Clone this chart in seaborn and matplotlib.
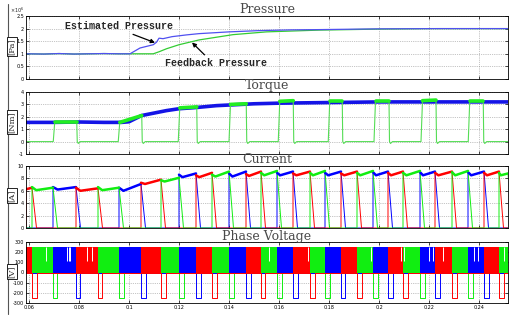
import numpy as np
import pandas as pd
import matplotlib
matplotlib.use("Agg")
import matplotlib.pyplot as plt
import seaborn as sns
from matplotlib.lines import Line2D

# ---------------- data ----------------
x_ticks = [0.06, 0.08, 0.10, 0.12, 0.14, 0.16, 0.18, 0.20, 0.22, 0.24]
x_tick_labels = ["0.06", "0.08", "0.1", "0.12", "0.14", "0.16", "0.18", "0.2", "0.22", "0.24"]
t_first, t_last = 0.0588, 0.2516

# Pressure (x10^6 Pa)
p_est_t = [0.0588, 0.066, 0.072, 0.078, 0.084, 0.090, 0.096, 0.1004, 0.1044, 0.1097, 0.1110,
           0.1120, 0.1136, 0.1172, 0.1230, 0.1280, 0.1400, 0.1520, 0.1650, 0.1760, 0.2000, 0.2250, 0.2516]
p_est_v = [1.00, 0.99, 1.01, 0.99, 1.00, 1.01, 1.00, 1.00, 1.23, 1.36, 1.46,
           1.62, 1.60, 1.68, 1.75, 1.80, 1.87, 1.92, 1.95, 1.96, 1.99, 2.00, 2.00]
p_fb_t = [0.0588, 0.066, 0.072, 0.078, 0.084, 0.090, 0.096, 0.1040, 0.1097, 0.1120, 0.1150,
          0.1200, 0.1280, 0.1416, 0.1550, 0.1760, 0.2000, 0.2200, 0.2516]
p_fb_v = [1.00, 0.99, 1.01, 0.99, 1.00, 1.01, 1.00, 1.00, 1.00, 1.08, 1.20,
          1.36, 1.55, 1.76, 1.87, 1.94, 1.98, 2.00, 2.00]
pressure_ticks = [0, 0.5, 1, 1.5, 2, 2.5]
pressure_tick_labels = ["0", "0.5", "1", "1.5", "2", "2.5"]

# Torque (Nm)
tq_est_t = [0.0588, 0.070, 0.080, 0.090, 0.097, 0.1000, 0.1050, 0.1100, 0.1150, 0.1200,
            0.1270, 0.1350, 0.1400, 0.1500, 0.1600, 0.1800, 0.2000, 0.2200, 0.2516]
tq_est_v = [1.55, 1.55, 1.58, 1.55, 1.55, 1.60, 2.10, 2.30, 2.50, 2.65,
            2.75, 2.90, 2.95, 3.05, 3.10, 3.15, 3.20, 3.20, 3.20]
tq_pulse_on = [0.0697, 0.0957, 0.1197, 0.1400, 0.1597, 0.1797, 0.1980, 0.2168, 0.2357]
tq_pulse_off = [0.0791, 0.1051, 0.1271, 0.1469, 0.1657, 0.1853, 0.2040, 0.2228, 0.2417]
tq_pulse_v_on = [1.60, 1.55, 2.72, 3.00, 3.25, 3.30, 3.30, 3.30, 3.30]
tq_pulse_v_off = [1.60, 2.10, 2.80, 3.05, 3.30, 3.30, 3.30, 3.35, 3.30]
tq_undershoot = -0.15
torque_ticks = [-1, 0, 1, 2, 3, 4]

# Commutation instants (segment boundaries) and phase order
comm_t = [0.0588, 0.0612, 0.0696, 0.0788, 0.0876, 0.0960, 0.1048, 0.1128, 0.1200, 0.1268,
          0.1332, 0.1400, 0.1468, 0.1528, 0.1592, 0.1656, 0.1724, 0.1784, 0.1848, 0.1912,
          0.1976, 0.2036, 0.2096, 0.2164, 0.2224, 0.2292, 0.2356, 0.2420, 0.2480, 0.2516]
phase_cycle = ["R", "G", "B"]

# Current (A) per conduction segment
cur_start = [6.3, 6.6, 6.6, 6.5, 6.6, 6.5, 7.3, 7.7, 8.6, 8.5, 8.6, 8.8, 8.7, 8.9, 8.9,
             8.8, 8.9, 8.9, 8.8, 8.9, 9.0, 8.9, 8.9, 9.0, 8.9, 9.0, 9.0, 8.9, 8.9]
cur_min = [6.3, 6.1, 6.2, 6.0, 6.1, 6.0, 7.1, 7.5, 8.2, 8.2, 8.3, 8.3, 8.4, 8.5, 8.5,
           8.5, 8.5, 8.5, 8.5, 8.5, 8.5, 8.5, 8.5, 8.5, 8.5, 8.5, 8.5, 8.5, 8.5]
cur_end = [6.5, 6.5, 6.6, 6.4, 6.5, 7.1, 7.8, 8.1, 8.8, 8.9, 9.1, 9.1, 9.1, 9.2, 9.1,
           9.1, 9.2, 9.1, 9.1, 9.2, 9.1, 9.1, 9.2, 9.1, 9.1, 9.2, 9.1, 9.1, 8.8]
cur_fall = 0.0018
current_ticks = [0, 2, 4, 6, 8, 10]

# Phase voltage (V)
v_on = 250
v_neg = -250
pwm_gap_t = [0.0668, 0.0752, 0.0758, 0.0764, 0.0832, 0.0852, 0.1560, 0.1716, 0.1968,
             0.2088, 0.2100, 0.2200, 0.2216, 0.2256, 0.2380, 0.2396, 0.2500]
pwm_gap_low = 110
voltage_ticks = [-300, -200, -100, 0, 100, 200, 300]

# ---------------- style ----------------
sns.set_style("white")
plt.rcParams["font.family"] = ["DejaVu Sans"]
COL = {"R": "#ff0000", "G": "#11ee11", "B": "#0000ff"}

W_PX, H_PX = 516, 322
fig = plt.figure(figsize=(W_PX / 100, H_PX / 100), dpi=100)
L, Wd = 26 / W_PX, (508 - 26) / W_PX


def pos(top, bottom):
    return [L, 1 - bottom / H_PX, Wd, (bottom - top) / H_PX]


ax_p = fig.add_axes(pos(16, 79))
ax_t = fig.add_axes(pos(92, 154), sharex=ax_p)
ax_c = fig.add_axes(pos(166, 228), sharex=ax_p)
ax_v = fig.add_axes(pos(242, 303), sharex=ax_p)
axes = [ax_p, ax_t, ax_c, ax_v]


def line(ax, t, v, color, lw, units=None):
    df = pd.DataFrame({"t": t, "v": v})
    kw = {}
    if units is not None:
        df["u"] = units
        kw["units"] = "u"
    sns.lineplot(data=df, x="t", y="v", ax=ax, color=color, linewidth=lw,
                 sort=False, estimator=None, **kw)


# ---- Pressure ----
line(ax_p, p_fb_t, p_fb_v, "#33cc33", 0.9)
line(ax_p, p_est_t, p_est_v, "#5050f0", 0.9)
ax_p.set_ylim(0, 2.5)
ax_p.set_yticks(pressure_ticks, labels=pressure_tick_labels)
ax_p.text(-0.004, 1.02, r"$\times10^{6}$", transform=ax_p.transAxes, fontsize=3.5,
          ha="right", va="bottom")
mono = dict(family="Liberation Mono", weight="bold", fontsize=7.2)
ax_p.annotate("Estimated Pressure", xy=(0.1104, 1.44), xytext=(0.0744, 2.1),
              ha="left", va="center", **mono,
              arrowprops=dict(arrowstyle="-|>", color="black", lw=0.9,
                              mutation_scale=6, relpos=(0.55, 0.0), shrinkA=0, shrinkB=0))
ax_p.annotate("Feedback Pressure", xy=(0.1252, 1.45), xytext=(0.1144, 0.63),
              ha="left", va="center", **mono,
              arrowprops=dict(arrowstyle="-|>", color="black", lw=0.9,
                              mutation_scale=6, relpos=(0.42, 1.0), shrinkA=0, shrinkB=0))

# ---- Torque ----
line(ax_t, tq_est_t, tq_est_v, "#1414e6", 2.6)
g_t, g_v = [t_first], [0.0]
thick_t, thick_v, thick_u = [], [], []
for k, (on, off, von, voff) in enumerate(zip(tq_pulse_on, tq_pulse_off, tq_pulse_v_on, tq_pulse_v_off)):
    g_t += [on, on + 0.0006, off, off + 0.0002, off + 0.0006, off + 0.0014]
    g_v += [0.0, von, voff, 0.0, tq_undershoot, 0.0]
    thick_t += [on + 0.0006, off]
    thick_v += [von, voff]
    thick_u += [k, k]
g_t.append(t_last)
g_v.append(0.0)
line(ax_t, g_t, g_v, "#55dd55", 0.8)
line(ax_t, thick_t, thick_v, "#22ee22", 2.6, units=thick_u)
ax_t.set_ylim(-1, 4)
ax_t.set_yticks(torque_ticks, labels=[str(v) for v in torque_ticks])

# ---- Current ----
nseg = len(comm_t) - 1
seg_phase = [phase_cycle[i % 3] for i in range(nseg)]
for ph in ["B", "R", "G"]:
    ct, cv = [t_first], [0.0]
    for i in range(nseg):
        if seg_phase[i] != ph:
            continue
        ts, te = comm_t[i], comm_t[i + 1]
        ct += [ts, ts, ts + 0.2 * (te - ts), te, te + cur_fall]
        cv += [0.0, cur_start[i], cur_min[i], cur_end[i], 0.0]
    ct.append(t_last)
    cv.append(0.0)
    line(ax_c, ct, cv, COL[ph], 0.7)
for ph in ["B", "R", "G"]:
    st, sv, su = [], [], []
    for i in range(nseg):
        if seg_phase[i] != ph:
            continue
        ts, te = comm_t[i], comm_t[i + 1]
        st += [ts, ts + 0.2 * (te - ts), te]
        sv += [cur_start[i], cur_min[i], cur_end[i]]
        su += [i, i, i]
    line(ax_c, st, sv, COL[ph], 1.8, units=su)
ax_c.set_ylim(0, 10)
ax_c.set_yticks(current_ticks, labels=[str(v) for v in current_ticks])

# ---- Phase voltage ----
for i in range(nseg):
    ax_v.fill_between([comm_t[i], comm_t[i + 1]], 0, v_on, color=COL[seg_phase[i]],
                      linewidth=0, zorder=2)
ax_v.vlines(pwm_gap_t, pwm_gap_low, v_on, color="white", linewidth=0.7, zorder=3)
for ph in ["G", "B", "R"]:
    vt, vv = [t_first], [0.0]
    for i in range(nseg):
        if seg_phase[i] != ph:
            continue
        te = comm_t[i + 1]
        vt += [te, te, te + cur_fall, te + cur_fall]
        vv += [0.0, v_neg, v_neg, 0.0]
    vt.append(t_last)
    vv.append(0.0)
    line(ax_v, vt, vv, COL[ph], 0.7)
ax_v.set_ylim(-300, 300)
ax_v.set_yticks(voltage_ticks, labels=[str(v) for v in voltage_ticks])

# ---- common axis styling ----
titles = ["Pressure", "Torque", "Current", "Phase Voltage"]
units_lbl = ["[Pa]", "[Nm]", "[A]", "[V]"]
for ax, ttl, ul in zip(axes, titles, units_lbl):
    ax.set_xlim(t_first, t_last)
    ax.set_xlabel("")
    ax.set_ylabel("")
    ax.grid(True, linestyle=":", color="#8c8c8c", linewidth=0.5)
    ax.set_axisbelow(True)
    ax.tick_params(direction="in", length=2, width=0.5, labelsize=3.5, pad=1.5,
                   top=True, right=True, bottom=True, left=True, colors="black")
    for s in ax.spines.values():
        s.set_linewidth(0.6)
        s.set_color("black")
    ax.set_title(ttl, fontsize=9, family="DejaVu Serif", color="#4a4a4a", pad=1.5)
    bb = ax.get_position()
    fig.text(12 / W_PX, bb.y0 + bb.height * 0.52, ul, rotation=90, ha="center", va="center",
             fontsize=6, family="DejaVu Serif",
             bbox=dict(boxstyle="square,pad=0.15", fc="white", ec="black", lw=0.6))
ax_v.set_xticks(x_ticks, labels=x_tick_labels)
for ax in [ax_p, ax_t, ax_c]:
    ax.tick_params(labelbottom=False)

fig.add_artist(Line2D([8 / W_PX, 8 / W_PX], [1 - 4 / H_PX, 1 - 314 / H_PX],
                      color="#555555", linewidth=0.8))

fig.savefig("out.png", dpi=100, facecolor="white")
